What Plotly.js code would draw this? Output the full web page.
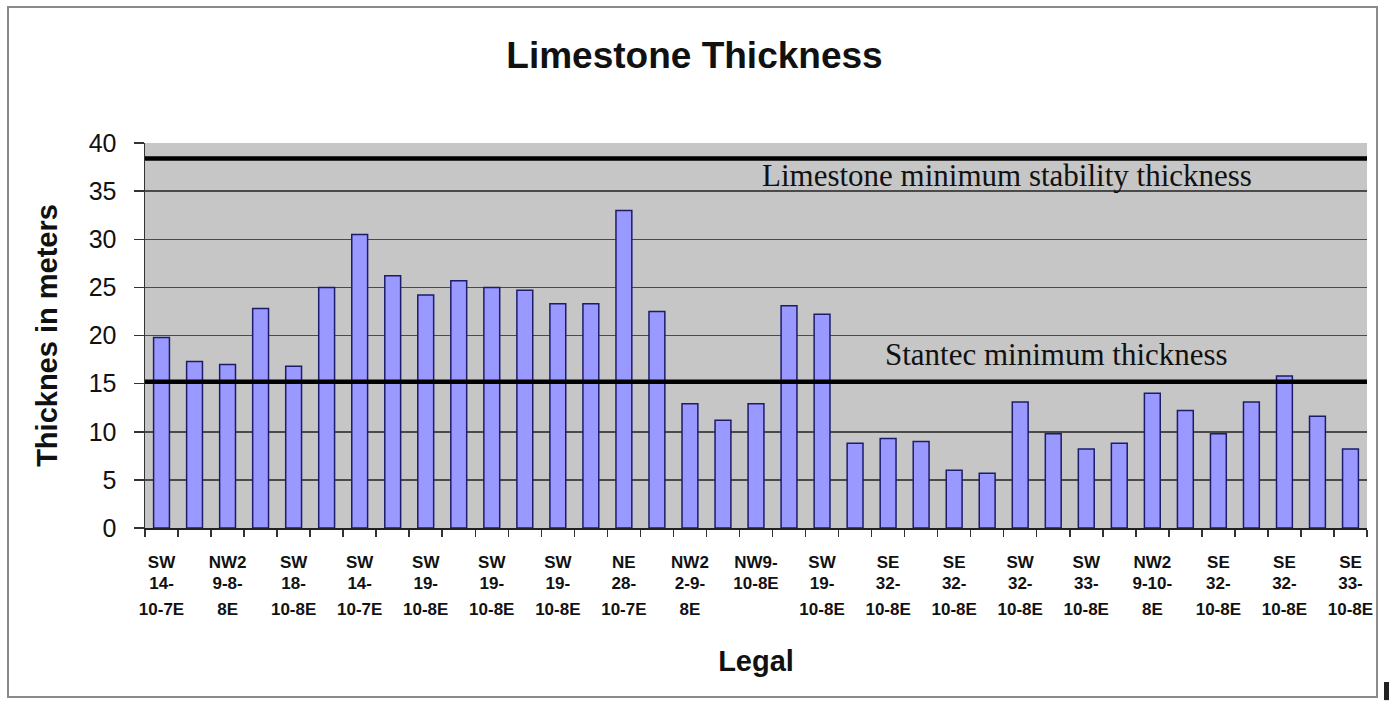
<!DOCTYPE html>
<html>
<head>
<meta charset="utf-8">
<script src="https://cdn.plot.ly/plotly-3.0.1.min.js"></script>
<style>html,body{margin:0;padding:0;background:#fff;}#chart{width:1389px;height:704px;}</style>
</head>
<body>
<div id="chart"></div>
<script>
// Thickness (m) for each of the 37 boreholes, left to right
const thickness = [19.8, 17.3, 17.0, 22.8, 16.8, 25.0, 30.5, 26.2, 24.2, 25.7,
  25.0, 24.7, 23.3, 23.3, 33.0, 22.5, 12.9, 11.2, 12.9, 23.1,
  22.2, 8.8, 9.3, 9.0, 6.0, 5.7, 13.1, 9.8, 8.2, 8.8,
  14.0, 12.2, 9.8, 13.1, 15.8, 11.6, 8.2];
// Legal labels shown under every other bar (line 1 / line 2 / line 3)
const labelLine1 = ["SW","NW2","SW","SW","SW","SW","SW","NE","NW2","NW9-","SW","SE","SE","SW","SW","NW2","SE","SE","SE"];
const labelLine2 = ["14-","9-8-","18-","14-","19-","19-","19-","28-","2-9-","10-8E","19-","32-","32-","32-","33-","9-10-","32-","32-","33-"];
const labelLine3 = ["10-7E","8E","10-8E","10-7E","10-8E","10-8E","10-8E","10-7E","8E","","10-8E","10-8E","10-8E","10-8E","10-8E","8E","10-8E","10-8E","10-8E"];
const stabilityMin = 38.4;   // Limestone minimum stability thickness
const stantecMin = 15.2;     // Stantec minimum thickness
const yTicks = [0,5,10,15,20,25,30,35,40];

const n = thickness.length;
const xIdx = thickness.map((_, i) => i);
const labelPos = labelLine1.map((_, i) => 2 * i);
const boundaries = Array.from({length: n + 1}, (_, i) => i - 0.5);
const xr = [-0.5, n - 0.5];

const sans = 'Arial, Liberation Sans, sans-serif';
const serif = 'Liberation Serif, Times New Roman, serif';
const tickFont = {family: sans, size: 17, color: '#111', weight: 'bold'};
const baseX = {
  range: xr, showgrid: false, zeroline: false, fixedrange: true,
  tickvals: labelPos, ticks: '', tickfont: tickFont, tickangle: 0
};

const data = [{
  type: 'bar', x: xIdx, y: thickness,
  marker: {color: '#9999ff', line: {color: '#1c1c6a', width: 1.5}},
  width: 0.48, hoverinfo: 'y'
}];

const layout = {
  width: 1389, height: 704,
  margin: {l: 145, r: 22, t: 143, b: 176},
  paper_bgcolor: '#ffffff', plot_bgcolor: '#c6c6c6',
  showlegend: false,
  title: {text: '<b>Limestone Thickness</b>', x: 0.5, xanchor: 'center', y: 0.922, yanchor: 'middle',
    font: {family: sans, size: 37, color: '#111'}},
  xaxis: Object.assign({}, baseX, {
    ticktext: labelLine1, ticklabelstandoff: 18,
    showline: true, linecolor: '#222', linewidth: 1.5,
    minor: {tickvals: boundaries, ticks: 'outside', ticklen: 7, tickcolor: '#333', tickwidth: 1.5}
  }),
  xaxis2: Object.assign({}, baseX, {overlaying: 'x', anchor: 'y', side: 'bottom', ticktext: labelLine2, ticklabelstandoff: 43, showline: false}),
  xaxis3: Object.assign({}, baseX, {overlaying: 'x', anchor: 'y', side: 'bottom', ticktext: labelLine3, ticklabelstandoff: 69, showline: false,
    title: {text: '<b>Legal</b>', standoff: 32, font: {family: sans, size: 29, color: '#111'}}}),
  yaxis: {
    range: [0, 40], tickvals: yTicks, fixedrange: true,
    showgrid: true, gridcolor: '#4a4a4a', gridwidth: 1.5, zeroline: false,
    ticks: 'outside', ticklen: 10, tickcolor: '#333', tickwidth: 1.5, ticklabelstandoff: 12,
    showline: true, linecolor: '#333', linewidth: 1.5,
    tickfont: {family: sans, size: 25, color: '#111'},
    title: {text: '<b>Thicknes in meters</b>', standoff: 22, font: {family: sans, size: 29, color: '#111'}}
  },
  shapes: [
    {type: 'line', xref: 'x', yref: 'y', x0: xr[0], x1: xr[1], y0: stabilityMin, y1: stabilityMin, line: {color: '#000', width: 4.5}},
    {type: 'line', xref: 'x', yref: 'y', x0: xr[0], x1: xr[1], y0: stantecMin, y1: stantecMin, line: {color: '#000', width: 4.5}},
    {type: 'rect', xref: 'paper', yref: 'paper', x0: -0.1121, x1: 1.0082, y0: -0.439, y1: 1.3532, line: {color: '#8a8a8a', width: 2}, fillcolor: 'rgba(0,0,0,0)', layer: 'below'},
    {type: 'rect', xref: 'paper', yref: 'paper', x0: 1.0139, x1: 1.0185, y0: -0.4, y1: -0.447, line: {width: 0}, fillcolor: '#222', layer: 'below'}
  ],
  annotations: [
    {xref: 'x', yref: 'y', x: 25.6, y: 36.6, text: 'Limestone minimum stability thickness', showarrow: false,
      font: {family: serif, size: 31, color: '#111'}},
    {xref: 'x', yref: 'y', x: 27.1, y: 18.0, text: 'Stantec minimum thickness', showarrow: false,
      font: {family: serif, size: 31, color: '#111'}}
  ]
};

// ghost traces so the overlay axes are drawn
data.push({type: 'scatter', x: [0], y: [0], xaxis: 'x2', yaxis: 'y', mode: 'markers', marker: {opacity: 0}, hoverinfo: 'skip'});
data.push({type: 'scatter', x: [0], y: [0], xaxis: 'x3', yaxis: 'y', mode: 'markers', marker: {opacity: 0}, hoverinfo: 'skip'});

Plotly.newPlot('chart', data, layout, {displayModeBar: false, staticPlot: true});
</script>
</body>
</html>
